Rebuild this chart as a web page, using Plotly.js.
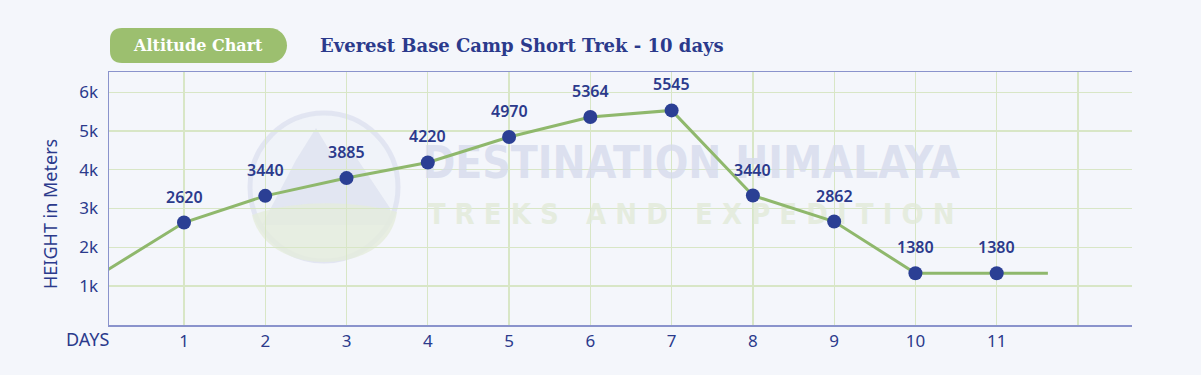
<!DOCTYPE html>
<html>
<head>
<meta charset="utf-8">
<script src="https://cdn.plot.ly/plotly-3.0.1.min.js"></script>
<style>
html,body{margin:0;padding:0;background:#f4f6fb;}
#chart{width:1201px;height:375px;}
</style>
</head>
<body>
<div id="chart"></div>
<script>
// ---- data ----
const days = [1, 2, 3, 4, 5, 6, 7, 8, 9, 10, 11];
const heightLabels = ["2620", "3440", "3885", "4220", "4970", "5364", "5545", "3440", "2862", "1380", "1380"];
// plotted heights as they sit on the picture's axis
const heights = [2636, 3325, 3783, 4186, 4842, 5359, 5530, 3333, 2661, 1328, 1328];
const lineStart = {day: 0, height: 1336};
const lineEnd = {day: 11.63, height: 1328};
const xTickVals = [1, 2, 3, 4, 5, 6, 7, 8, 9, 10, 11, 12];
const xTickText = ["1", "2", "3", "4", "5", "6", "7", "8", "9", "10", "11", ""];
const yTickVals = [1000, 2000, 3000, 4000, 5000, 6000];
const yTickText = ["1k", "2k", "3k", "4k", "5k", "6k"];
const chartTitle = "Everest Base Camp Short Trek - 10 days";
const badgeText = "Altitude Chart";
const yTitle = "HEIGHT in Meters";
const xLabel = "DAYS";
const watermark1 = "DESTINATION HIMALAYA";
const watermark2 = "T R E K S &nbsp; A N D &nbsp; E X P E D I T I O N";

// ---- geometry helpers (pixels -> paper) ----
const L = 109, R = 1132, T = 72, B = 325;
const px = p => (p - L) / (R - L);
const py = p => (B - p) / (B - T);
const P = (x, y) => px(x) + "," + py(y);

const blue = "#2b3a8c";
const green = "#8fb86c";

const lineX = [lineStart.day].concat(days, [lineEnd.day]);
const lineY = [lineStart.height].concat(heights, [lineEnd.height]);

const wmFont = "Liberation Sans Narrow, DejaVu Sans Condensed, Roboto, sans-serif";
const traces = [
  { // watermark text (drawn first = beneath)
    type: "scatter", mode: "text", hoverinfo: "skip", showlegend: false,
    x: [7.24], y: [4060], text: [watermark1], cliponaxis: false,
    textfont: {family: wmFont, size: 44, color: "rgba(214,219,236,0.8)", weight: 700}
  },
  {
    type: "scatter", mode: "text", hoverinfo: "skip", showlegend: false,
    x: [7.24], y: [2790], text: [watermark2], cliponaxis: false,
    textfont: {family: wmFont, size: 29, color: "rgba(226,234,216,0.8)", weight: 700}
  },
  {
    type: "scatter", mode: "lines", x: lineX, y: lineY, showlegend: false,
    line: {color: green, width: 3}, hoverinfo: "skip"
  },
  {
    type: "scatter", mode: "markers", x: days, y: heights, showlegend: false,
    marker: {color: "#2b3f94", size: 14}, cliponaxis: false
  }
];

const annotations = days.map((d, i) => ({
  x: d, y: heights[i], xref: "x", yref: "y", text: heightLabels[i],
  showarrow: false, yshift: 26, yanchor: "middle",
  font: {family: "Noto Sans, sans-serif", size: 16, color: blue, weight: 600}
}));

annotations.push(
  {xref: "paper", yref: "paper", x: px(198), y: py(46), text: "<b>" + badgeText + "</b>", showarrow: false,
   xanchor: "center", yanchor: "middle", font: {family: "DejaVu Serif, serif", size: 16, color: "#ffffff"}},
  {xref: "paper", yref: "paper", x: px(318), y: py(46), text: "<b>" + chartTitle + "</b>", showarrow: false,
   xanchor: "left", yanchor: "middle", font: {family: "DejaVu Serif, serif", size: 18, color: blue}},
  {xref: "paper", yref: "paper", x: px(50), y: py(214), text: yTitle, showarrow: false, textangle: -90,
   xanchor: "center", yanchor: "middle", font: {family: "Noto Sans, sans-serif", size: 18, color: blue}},
  {xref: "paper", yref: "paper", x: px(111), y: py(339), text: xLabel, showarrow: false,
   xanchor: "right", yanchor: "middle", font: {family: "Noto Sans, sans-serif", size: 18, color: blue}}
);

// badge pill path
const pill = "M" + P(122, 28) + " L" + P(269.5, 28) +
  " C" + P(279.2, 28) + " " + P(287, 35.8) + " " + P(287, 45.5) +
  " C" + P(287, 55.2) + " " + P(279.2, 63) + " " + P(269.5, 63) +
  " L" + P(122, 63) + " Q" + P(110, 63) + " " + P(110, 51) +
  " L" + P(110, 40) + " Q" + P(110, 28) + " " + P(122, 28) + " Z";

// watermark logo
const cx = 324, cy = 187, r = 74;
const mountain = "M" + P(262, 225) + " L" + P(296, 160) + " L" + P(316, 128) + " L" + P(334, 158) +
  " L" + P(350, 148) + " L" + P(390, 208) + " L" + P(390, 225) + " Z";
const lower = "M" + P(252, 215) + " C" + P(300, 198) + " " + P(360, 202) + " " + P(397, 212) +
  " C" + P(392, 245) + " " + P(362, 262) + " " + P(324, 262) +
  " C" + P(286, 262) + " " + P(258, 242) + " " + P(252, 215) + " Z";

const shapes = [
  {type: "path", xref: "paper", yref: "paper", path: pill, fillcolor: "#9cbf6f", line: {width: 0}},
  {type: "circle", xref: "paper", yref: "paper", layer: "below",
   x0: px(cx - r), x1: px(cx + r), y0: py(cy + r), y1: py(cy - r),
   fillcolor: "rgba(236,239,248,0.4)", line: {color: "rgba(218,222,238,0.7)", width: 5}},
  {type: "path", xref: "paper", yref: "paper", layer: "below", path: mountain,
   fillcolor: "rgba(216,221,237,0.6)", line: {width: 0}},
  {type: "path", xref: "paper", yref: "paper", layer: "below", path: lower,
   fillcolor: "rgba(229,236,220,0.8)", line: {width: 0}}
];

const layout = {
  width: 1201, height: 375,
  margin: {l: L, r: 1201 - R, t: T, b: 375 - B, pad: 0},
  paper_bgcolor: "#f4f6fb", plot_bgcolor: "#f4f6fb",
  showlegend: false,
  xaxis: {
    range: [0.0772, 12.665], tickvals: xTickVals, ticktext: xTickText,
    showgrid: true, gridcolor: "#d8e6c6", gridwidth: 1.3, zeroline: false,
    showline: true, linecolor: "#8a93cc", linewidth: 1.5, mirror: true,
    ticks: "", tickfont: {family: "Noto Sans, sans-serif", size: 17, color: blue}
  },
  yaxis: {
    range: [-10, 6522], tickvals: yTickVals, ticktext: yTickText,
    showgrid: true, gridcolor: "#d8e6c6", gridwidth: 1.3, zeroline: false,
    showline: true, linecolor: "#8a93cc", linewidth: 1.5, mirror: false,
    ticks: "", ticklabelstandoff: 6,
    tickfont: {family: "Noto Sans, sans-serif", size: 17, color: blue}
  },
  annotations: annotations,
  shapes: shapes
};

Plotly.newPlot("chart", traces, layout, {displayModeBar: false, staticPlot: true});
</script>
</body>
</html>
